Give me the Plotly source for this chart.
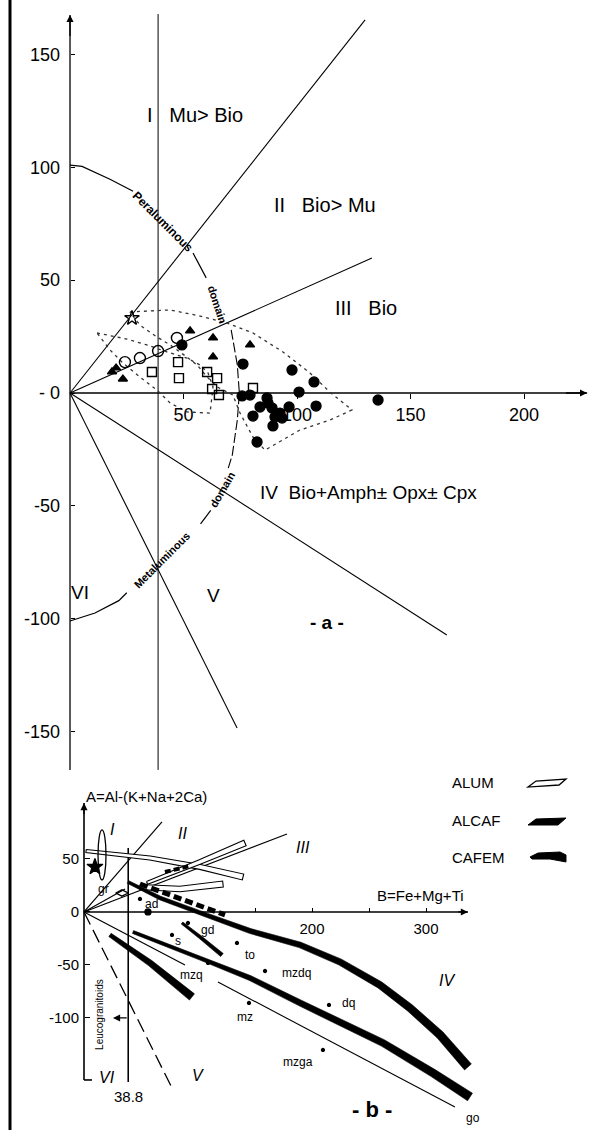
import numpy as np
import plotly.graph_objects as go

W, H = 590, 1130
FONT = "Liberation Sans, Arial, Helvetica, sans-serif"

# axis windows: a = upper diagram, b = lower diagram
XA = [-30.84, 229.07]
YA = [-326.54, 174.13]
XB = [-73.68, 443.86]
YB = [-205.7, 860.4]

# ---------------- diagram a ----------------
a_xticks = [50, 100, 150, 200]
a_yticks = [150, 100, 50, 0, -50, -100, -150]
a_ytext = ["150", "100", "50", "- 0", "-50", "-100", "-150"]
a_yaxis_span = [-167.0, 167.5]
a_xaxis_end = 227.8
split_b = 38.8

# domain limits from the origin: I/II, II/III, IV/V, V/VI
ray_a_x = [130.0, 133.0, 166.0, 73.6]
ray_a_y = [165.3, 59.8, -107.2, -148.4]

# peraluminous / metaluminous limit, pieces between its labels
peral_x = [0.0, 5.3, 17.6, 27.8]
peral_y = [101.0, 100.4, 94.7, 89.4]
peral2_x = [54.2, 60.0]
peral2_y = [62.0, 51.0]
arc_x = [71.0, 73.7, 74.6, 73.7, 71.5, 69.5]
arc_y = [28.0, 12.4, 0.0, -12.0, -27.4, -34.0]
metal2_x = [62.0, 57.5]
metal2_y = [-52.0, -58.0]
metal_x = [25.0, 21.5, 11.0, 0.0]
metal_y = [-88.5, -92.0, -97.5, -101.0]

# dotted fields
field1_x = [26.4, 44.1, 57.3, 69.2, 80.6, 93.8, 105.7, 114.5, 124.2, 114.5, 101.3, 85.9,
            80.6, 74.9, 71.8, 64.8, 60.4, 56.0, 51.5, 44.1, 38.3, 30.8, 26.4]
field1_y = [35.9, 36.8, 34.1, 31.0, 26.6, 18.2, 8.9, 0.4, -7.5, -12.0, -16.4, -25.3,
            -19.5, -8.9, -0.9, 2.7, 7.1, 12.4, 15.9, 21.3, 24.8, 30.1, 35.9]
field2_x = [11.9, 25.1, 33.9, 42.7, 51.5, 57.3, 60.8, 63.0, 61.7, 51.5, 44.1, 38.3,
            30.8, 23.3, 17.6, 11.9]
field2_y = [26.6, 23.9, 21.3, 18.2, 15.5, 12.4, 8.9, 2.7, -8.9, -8.4, -4.4, 1.3,
            7.1, 13.3, 19.1, 26.6]

# samples
ocirc_x = [24.2, 30.8, 38.8, 47.1]
ocirc_y = [13.7, 15.5, 18.6, 24.4]
osq_x = [36.1, 47.6, 48.0, 60.4, 64.8, 62.6, 65.6, 80.6]
osq_y = [9.3, 13.7, 6.6, 9.3, 6.6, 1.8, -0.9, 2.2]
tri_x = [18.5, 20.3, 23.3, 52.9, 63.0, 63.0, 79.3]
tri_y = [9.4, 11.1, 6.2, 27.5, 24.4, 16.0, 21.3]
fcirc_x = [49.3, 76.2, 97.8, 107.5, 100.9, 75.8, 79.3, 86.8, 87.2, 83.7, 80.6, 89.0,
           90.3, 93.4, 89.4, 92.5, 96.5, 108.4, 82.4, 135.7]
fcirc_y = [21.3, 12.8, 10.2, 4.9, 0.4, -1.3, -0.9, -2.2, -4.4, -6.2, -10.2, -6.6,
           -10.6, -11.1, -14.6, -8.9, -6.2, -5.8, -21.7, -3.1]
ostar_x = [27.3]
ostar_y = [33.2]

# ---------------- diagram b ----------------
b_xticks = [150, 200, 250, 300]
b_xtext = ["", "200", "", "300"]
b_yticks = [50, 0, -50, -100]
b_ytext = ["50", "0", "-50", "-100"]
b_yaxis_span = [-158.5, 102.8]
b_xaxis_end = 336.8
b_split_span = [-160.4, 60.4]

ray_b_x = [68.4, 178.1, 36.0, 88.6]
ray_b_y = [84.9, 73.6, 21.7, -50.0]
vvi_b_x = [0.0, 77.2]
vvi_b_y = [0.0, -166.0]
mzline_x = [117.5, 325.4]
mzline_y = [-66.0, -184.0]

cafem1_x = [38.6, 66.7, 101.8, 145.6, 189.5, 224.6, 259.6, 286.0, 312.3, 336.8]
cafem1_y = [28.3, 13.2, -0.9, -17.9, -31.1, -47.2, -68.9, -90.6, -116.0, -146.2]
cafem2_x = [43.0, 101.8, 145.6, 189.5, 262.3, 306.1, 338.6]
cafem2_y = [-18.9, -43.4, -62.3, -85.8, -123.6, -151.9, -174.5]
cafem3_x = [22.8, 57.9, 94.7]
cafem3_y = [-21.7, -48.1, -80.2]
cafem4_x = [86.0, 101.8, 121.0]
cafem4_y = [-10.4, -23.6, -40.6]
alcaf1_x = [49.1, 123.7]
alcaf1_y = [26.4, -2.8]
alcaf2_x = [71.0, 93.0]
alcaf2_y = [37.7, 43.4]
alum1_x = [1.8, 57.9, 101.8, 139.5]
alum1_y = [57.5, 50.9, 42.5, 33.0]
alum2_x = [55.3, 101.8, 141.2]
alum2_y = [27.4, 47.2, 65.1]
alum3_x = [49.1, 84.2, 121.9]
alum3_y = [23.6, 21.7, 26.4]
ell_c = [15.8, 53.8]
ell_r = [3.5, 23.6]
bstar_x = [9.6]
bstar_y = [42.5]
bopen_x = [33.3]
bopen_y = [17.9]
blob_x = [56.1]
blob_y = [0.0]

rock_names = ["ad", "gd", "s", "to", "mzq", "mzdq", "mz", "dq", "mzga"]
rock_x = [49.1, 91.2, 77.2, 134.2, 108.8, 158.8, 144.7, 214.9, 209.6]
rock_y = [12.3, -10.4, -21.7, -29.2, -48.1, -55.7, -85.8, -87.7, -130.2]
rock_lx = [58.8, 107.9, 82.5, 145.6, 94.7, 186.8, 141.2, 231.6, 187.7]
rock_ly = [7.5, -17.0, -27.4, -40.6, -59.4, -57.5, -99.1, -85.8, -141.5]

fig = go.Figure()
A = ("x", "y")
B = ("x2", "y2")


def line(x, y, ax, width=1.2, dash=None, color="black"):
    fig.add_trace(go.Scatter(x=x, y=y, mode="lines", xaxis=ax[0], yaxis=ax[1],
                             line=dict(color=color, width=width, dash=dash),
                             hoverinfo="skip", showlegend=False))


def marks(x, y, ax, symbol, size, color="black", lw=1.3):
    fig.add_trace(go.Scatter(x=x, y=y, mode="markers", xaxis=ax[0], yaxis=ax[1],
                             marker=dict(symbol=symbol, size=size, color=color,
                                         line=dict(color="black", width=lw)),
                             hoverinfo="skip", showlegend=False))


def band(x, y, ax, w0, w1, fill="black", edge=0.6):
    """Tapered band around a centre line, widths given in screen pixels."""
    xr, yr = (XA, YA) if ax == A else (XB, YB)
    sx = W / (xr[1] - xr[0])
    sy = H / (yr[1] - yr[0])
    px = np.asarray(x, float) * sx
    py = np.asarray(y, float) * sy
    dx, dy = np.gradient(px), np.gradient(py)
    n = np.hypot(dx, dy)
    nx, ny = -dy / n, dx / n
    hw = np.linspace(w0, w1, len(px)) / 2
    ux, uy = (px + nx * hw) / sx, (py + ny * hw) / sy
    lx, ly = (px - nx * hw) / sx, (py - ny * hw) / sy
    bx = np.concatenate([ux, lx[::-1], ux[:1]])
    by = np.concatenate([uy, ly[::-1], uy[:1]])
    fig.add_trace(go.Scatter(x=bx, y=by, mode="lines", fill="toself", fillcolor=fill,
                             xaxis=ax[0], yaxis=ax[1],
                             line=dict(color="black", width=edge),
                             hoverinfo="skip", showlegend=False))


def arrow(ax, x, y, x0, y0, head=2):
    fig.add_annotation(xref=ax[0], yref=ax[1], axref=ax[0], ayref=ax[1],
                       x=x, y=y, ax=x0, ay=y0, text="", showarrow=True,
                       arrowhead=head, arrowsize=1.1, arrowwidth=1.3, arrowcolor="black")


def label(ax, text, x, y, size=18, angle=0, xanchor="center", yanchor="middle"):
    fig.add_annotation(xref=ax[0], yref=ax[1], x=x, y=y, text=text, showarrow=False,
                       textangle=angle, xanchor=xanchor, yanchor=yanchor,
                       font=dict(family=FONT, size=size, color="black"))


# ---- diagram a: frame lines
line([0, 0], a_yaxis_span, A, 1.3)
line([0, a_xaxis_end], [0, 0], A, 1.3)
line([split_b, split_b], [a_yaxis_span[0], 167.9], A, 1.0)
arrow(A, 0, a_yaxis_span[1], 0, a_yaxis_span[1] - 10)
arrow(A, a_xaxis_end, 0, a_xaxis_end - 10, 0)
for rx, ry in zip(ray_a_x, ray_a_y):
    line([0, rx], [0, ry], A, 1.1)

# peraluminous / metaluminous limit
line(peral_x, peral_y, A, 1.2)
line(peral2_x, peral2_y, A, 1.2)
line(arc_x, arc_y, A, 1.1, dash="10px,3px")
line(metal2_x, metal2_y, A, 1.2)
line(metal_x, metal_y, A, 1.2)
label(A, "<b>Peraluminous</b>", 41.0, 75.8, size=12, angle=45)
label(A, "<b>domain</b>", 64.8, 39.4, size=11, angle=72)
label(A, "<b>domain</b>", 67.0, -43.0, size=11, angle=-60)
label(A, "<b>Metaluminous</b>", 40.5, -74.0, size=11, angle=-45)

# fields
line(field1_x, field1_y, A, 1.3, dash="3px,4px", color="#333")
line(field2_x, field2_y, A, 1.3, dash="3px,4px", color="#333")

# samples
marks(ocirc_x, ocirc_y, A, "circle-open", 11, lw=1.4)
marks(osq_x, osq_y, A, "square-open", 9, lw=1.4)
marks(tri_x, tri_y, A, "triangle-up", 8)
marks(fcirc_x, fcirc_y, A, "circle", 10)
marks(ostar_x, ostar_y, A, "star-open", 11, lw=1.4)

# domain labels
label(A, "I&nbsp;&nbsp;&nbsp;Mu> Bio", 33.0, 123.2, 20, xanchor="left")
label(A, "II&nbsp;&nbsp;&nbsp;Bio> Mu", 89.0, 83.3, 20, xanchor="left")
label(A, "III&nbsp;&nbsp;&nbsp;Bio", 115.9, 37.7, 20, xanchor="left")
label(A, "IV&nbsp;&nbsp;Bio+Amph± Opx± Cpx", 82.8, -44.3, 19, xanchor="left")
label(A, "VI", 4.4, -88.6, 19)
label(A, "V", 63.0, -89.5, 19)
label(A, "<b>- a -</b>", 113.2, -101.5, 19)

# ---- diagram b: frame lines
line([0, 0], b_yaxis_span, B, 1.6)
line([0, 7.0], [b_yaxis_span[0], b_yaxis_span[0]], B, 1.6)
line([0, b_xaxis_end], [0, 0], B, 1.6)
line([split_b, split_b], b_split_span, B, 1.6)
arrow(B, 0, b_yaxis_span[1], 0, b_yaxis_span[1] - 12)
arrow(B, b_xaxis_end, 0, b_xaxis_end - 10, 0)
for rx, ry in zip(ray_b_x, ray_b_y):
    line([0, rx], [0, ry], B, 1.2)
line(vvi_b_x, vvi_b_y, B, 1.3, dash="14px,6px")
line(mzline_x, mzline_y, B, 1.1)

# rock series bands
band(alum1_x, alum1_y, B, 3, 6, fill="white", edge=1.1)
band(alum2_x, alum2_y, B, 3, 6, fill="white", edge=1.1)
band(alum3_x, alum3_y, B, 5, 6, fill="white", edge=1.1)
band(cafem1_x, cafem1_y, B, 3, 9)
band(cafem2_x, cafem2_y, B, 3, 9)
band(cafem3_x, cafem3_y, B, 4, 8)
band(cafem4_x, cafem4_y, B, 2.5, 4)
line(alcaf1_x, alcaf1_y, B, 5, dash="8px,4px")
line(alcaf2_x, alcaf2_y, B, 4, dash="6px,3px")
fig.add_shape(type="circle", xref="x2", yref="y2",
              x0=ell_c[0] - ell_r[0], x1=ell_c[0] + ell_r[0],
              y0=ell_c[1] - ell_r[1], y1=ell_c[1] + ell_r[1],
              line=dict(color="black", width=1.3))
marks(bstar_x, bstar_y, B, "star", 12)
marks(bopen_x, bopen_y, B, "diamond-wide-open", 9, lw=1.3)
marks(blob_x, blob_y, B, "circle", 6)
marks(rock_x, rock_y, B, "circle", 3)
for nm, lx, ly in zip(rock_names, rock_lx, rock_ly):
    label(B, nm, lx, ly, 12)
label(B, "go", 341.2, -194.3, 12)
label(B, "gr", 16.7, 21.7, 12)

arrow(B, 25.4, -100, split_b, -100, head=2)
label(B, "Leucogranitoids", 14.0, -96.2, 10, angle=-90)
label(B, "38.8", split_b, -174.5, 15)
label(B, "A=Al-(K+Na+2Ca)", 54.4, 108.5, 15)
label(B, "B=Fe+Mg+Ti", 295.6, 15.1, 15)
label(B, "<i>I</i>", 24.6, 77.4, 16)
label(B, "<i>II</i>", 86.0, 74.5, 16)
label(B, "<i>III</i>", 192.1, 61.3, 16)
label(B, "<i>IV</i>", 318.4, -65.1, 16)
label(B, "<i>V</i>", 100.0, -154.7, 16)
label(B, "<i>VI</i>", 20.2, -156.6, 16)
label(B, "<b>- b -</b>", 252.6, -186.8, 22)

# legend (paper coordinates)
def P(px, py):
    return f"{px / W:.4f},{1 - py / H:.4f}"

for name, py in [("ALUM", 782), ("ALCAF", 820), ("CAFEM", 857)]:
    fig.add_annotation(xref="paper", yref="paper", x=450 / W, y=1 - py / H, text=name,
                       showarrow=False, xanchor="left", yanchor="middle",
                       font=dict(family=FONT, size=15, color="black"))
fig.add_shape(type="path", xref="paper", yref="paper",
              path=f"M{P(528, 787)} L{P(536, 781)} L{P(566, 779)} L{P(559, 785)} Z",
              fillcolor="white", line=dict(color="black", width=1.3))
fig.add_shape(type="path", xref="paper", yref="paper",
              path=f"M{P(528, 825)} L{P(536, 819)} L{P(566, 818)} L{P(558, 825)} Z",
              fillcolor="black", line=dict(color="black", width=1))
fig.add_shape(type="path", xref="paper", yref="paper",
              path=f"M{P(530, 857)} L{P(538, 853)} L{P(560, 852)} L{P(566, 855)} "
                   f"L{P(566, 862)} L{P(550, 859)} L{P(532, 859)} Z",
              fillcolor="black", line=dict(color="black", width=1))

# scanned page edge
fig.add_shape(type="line", xref="paper", yref="paper", x0=10 / W, x1=10 / W, y0=0, y1=1,
              line=dict(color="black", width=3))

pos_ya = (0 - XA[0]) / (XA[1] - XA[0])
pos_xa = (0 - YA[0]) / (YA[1] - YA[0])
pos_yb = (0 - XB[0]) / (XB[1] - XB[0])
pos_xb = (0 - YB[0]) / (YB[1] - YB[0])

common = dict(showgrid=False, zeroline=False, showline=False, fixedrange=True,
              tickcolor="black", tickwidth=1.2)
fig.update_layout(
    width=W, height=H, margin=dict(l=0, r=0, t=0, b=0),
    paper_bgcolor="white", plot_bgcolor="rgba(0,0,0,0)", showlegend=False,
    xaxis=dict(domain=[0, 1], range=XA, anchor="free", position=pos_xa,
               tickmode="array", tickvals=a_xticks, ticks="outside", ticklen=5,
               tickfont=dict(family=FONT, size=18, color="black"), **common),
    yaxis=dict(domain=[0, 1], range=YA, anchor="free", position=pos_ya,
               tickmode="array", tickvals=a_yticks, ticktext=a_ytext,
               ticks="inside", ticklen=4, ticklabelstandoff=10,
               tickfont=dict(family=FONT, size=18, color="black"), **common),
    xaxis2=dict(domain=[0, 1], range=XB, anchor="free", position=pos_xb, overlaying="x",
                tickmode="array", tickvals=b_xticks, ticktext=b_xtext,
                ticks="inside", ticklen=4, ticklabelstandoff=6,
                tickfont=dict(family=FONT, size=15, color="black"), **common),
    yaxis2=dict(domain=[0, 1], range=YB, anchor="free", position=pos_yb, overlaying="y",
                tickmode="array", tickvals=b_yticks, ticktext=b_ytext,
                ticks="inside", ticklen=5, ticklabelstandoff=5,
                tickfont=dict(family=FONT, size=15, color="black"), **common),
)

fig.write_html("out.html")
